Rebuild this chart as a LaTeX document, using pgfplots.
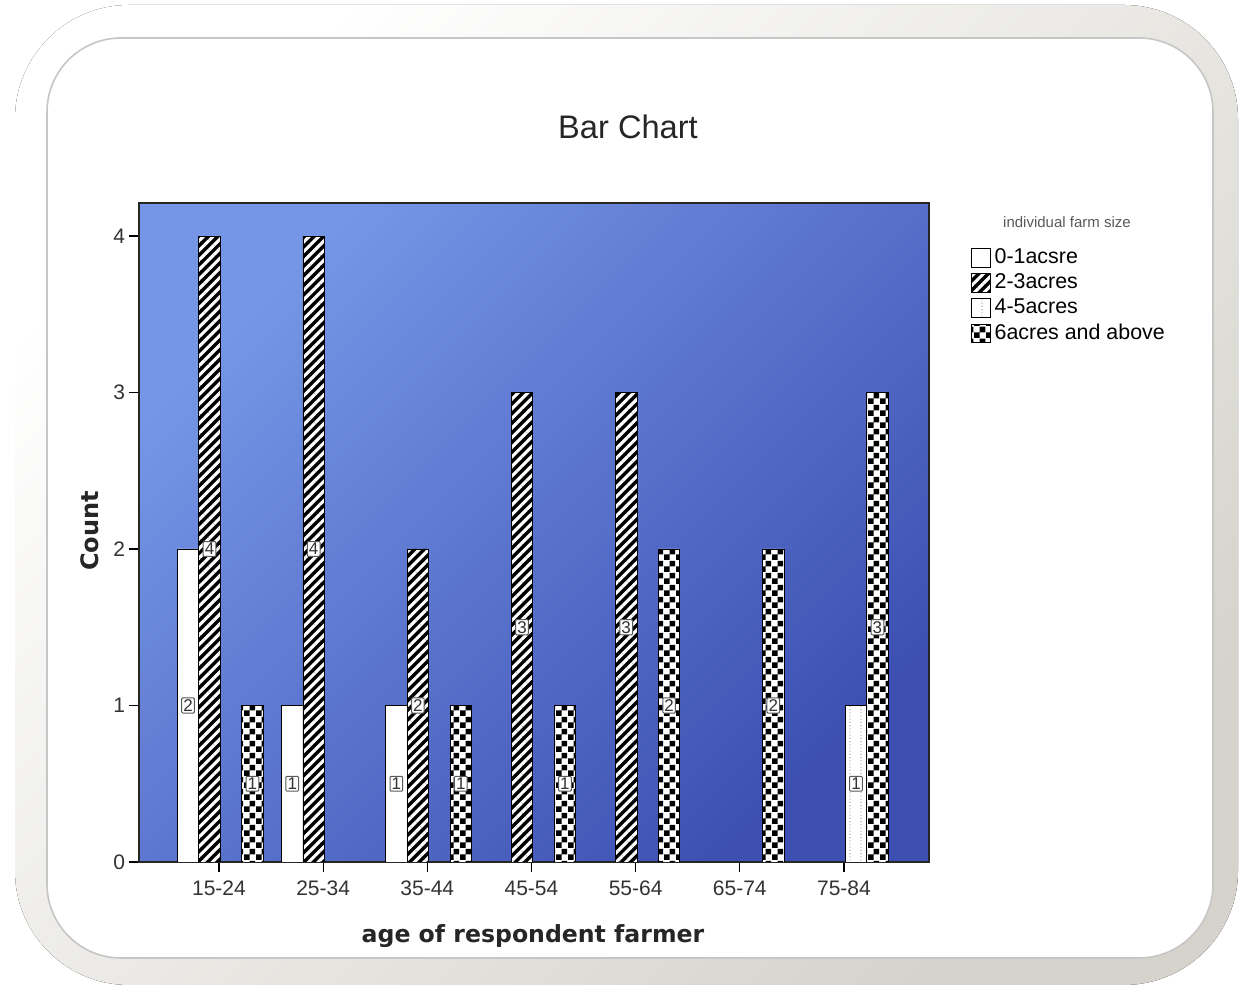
\documentclass[border=0pt]{standalone}
\usepackage{fontspec}
\setmainfont{Liberation Sans}
\newfontfamily\dejavu{DejaVu Sans}
\usepackage{pgfplots}
\pgfplotsset{compat=1.18}
\usetikzlibrary{patterns,patterns.meta}

\definecolor{bgA}{HTML}{7596E6}
\definecolor{bgB}{HTML}{3D50B2}
\definecolor{frameG}{HTML}{D5D3CB}
\definecolor{txt}{HTML}{333333}

\pgfdeclarepatternformonly{checker}{\pgfpointorigin}{\pgfqpoint{5.8pt}{5.8pt}}{\pgfqpoint{5.8pt}{5.8pt}}{%
  \pgfpathrectangle{\pgfpointorigin}{\pgfqpoint{2.9pt}{2.9pt}}%
  \pgfpathrectangle{\pgfqpoint{2.9pt}{2.9pt}}{\pgfqpoint{2.9pt}{2.9pt}}%
  \pgfusepath{fill}}
\pgfdeclarepatternformonly{vdots}{\pgfqpoint{-0.5pt}{-0.5pt}}{\pgfqpoint{5.5pt}{1.6pt}}{\pgfqpoint{5.5pt}{1.6pt}}{%
  \pgfpathcircle{\pgfqpoint{1.5pt}{0pt}}{0.35pt}%
  \pgfusepath{fill}}

\begin{document}
\begin{tikzpicture}
% frame
\path (0,0) rectangle (619.5pt,494pt);
\fill[rounded corners=57pt, top color=white, bottom color=frameG, shading angle=45] (7.5pt,1.5pt) rectangle (619pt,491.5pt);
\filldraw[rounded corners=37pt, fill=white, draw=gray!45, line width=0.8pt] (23.5pt,15pt) rectangle (606.5pt,475pt);

\begin{axis}[
  at={(69.5pt,63pt)}, anchor=south west,
  width=395pt, height=329.5pt, scale only axis,
  axis background/.style={top color=bgA, bottom color=bgB, shading angle=45},
  xmin=-0.768, xmax=6.816, ymin=0, ymax=4.211,
  ybar, bar width=0.206,
  xtick={0,...,6},
  xticklabels={15-24,25-34,35-44,45-54,55-64,65-74,75-84},
  ytick={0,1,2,3,4},
  xtick pos=bottom, ytick pos=left,
  tick align=outside, major tick length=5pt,
  tick style={black, line width=0.6pt},
  axis line style={black!85, line width=0.9pt},
  /pgf/number format/assume math mode=true,
  ticklabel style={font=\fontsize{10.5}{12}\selectfont, text=txt},
  yticklabel style={xshift=1.5pt},
  xticklabel style={yshift=-1pt},
  legend style={at={(1.053,0.937)}, anchor=north west, draw=none, fill=none,
     font=\fontsize{10.7}{11}\selectfont, row sep=-0.4pt, inner sep=0pt,
     cells={anchor=west}},
  legend cell align=left,
  legend image code/.code={\draw[#1, line width=0.5pt] (0pt,-4.6pt) rectangle (9.2pt,4.6pt);},
  nodes near coords,
  visualization depends on={y \as \rawy},
  every node near coord/.append style={anchor=center, shift={(axis direction cs:0,-\rawy/2)},
     font=\fontsize{8.5}{9}\selectfont, text=black!80, fill=white, draw=gray!70!black,
     line width=0.5pt, inner sep=0.8pt, rounded corners=0.5pt},
]
\addplot[bar shift=-0.297, draw=black, fill=white] coordinates {(0,2) (1,1) (2,1)};
\addlegendentry{0-1acsre}
\addplot[bar shift=-0.091, draw=black, fill=black,
  postaction={pattern={Lines[angle=45,distance=3.4pt,line width=1.55pt]}, pattern color=white}]
  coordinates {(0,4) (1,4) (2,2) (3,3) (4,3)};
\addlegendentry{2-3acres}
\addplot[bar shift=0.115, draw=black, fill=white,
  postaction={pattern=vdots, pattern color=gray!70}]
  coordinates {(6,1)};
\addlegendentry{4-5acres}
\addplot[bar shift=0.321, draw=black, fill=white,
  postaction={pattern=checker, pattern color=black}]
  coordinates {(0,1) (2,1) (3,1) (4,2) (5,2) (6,3)};
\addlegendentry{6acres and above}
\end{axis}

\node[font=\fontsize{16.3}{18}\selectfont, text=black!85] at (314pt,430.5pt) {Bar Chart};
\node[font=\dejavu\bfseries\fontsize{12}{14}\selectfont, text=black!85, rotate=90] at (45pt,228.5pt) {Count};
\node[font=\dejavu\bfseries\fontsize{11.8}{14}\selectfont, text=black!85] at (266.5pt,26pt) {age of respondent farmer};
\node[font=\fontsize{7.5}{8}\selectfont, text=black!65] at (533.5pt,383pt) {individual farm size};
\end{tikzpicture}
\end{document}
